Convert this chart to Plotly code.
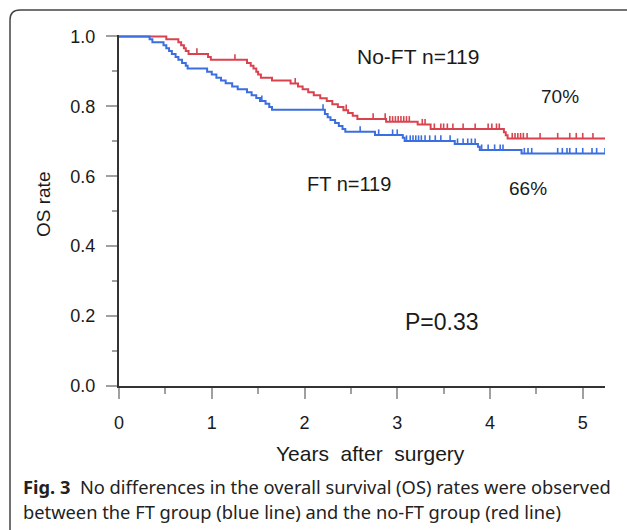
import plotly.graph_objects as go

# ---------------- data ----------------
# No-FT group (red): event times (years) and survival after each step
noft_times = [0, 0.51, 0.64, 0.67, 0.70, 0.72, 0.75, 0.96, 0.99, 1.38, 1.42, 1.45, 1.48, 1.50, 1.53,
              1.65, 1.85, 1.93, 1.98, 2.04, 2.10, 2.17, 2.24, 2.30, 2.36, 2.42, 2.47, 2.52, 2.57,
              2.88, 3.22, 3.36, 4.15, 4.17, 4.19]
noft_surv = [1.0, 0.992, 0.983, 0.975, 0.966, 0.958, 0.950, 0.941, 0.933, 0.924, 0.916, 0.908, 0.899, 0.891, 0.882,
             0.874, 0.865, 0.857, 0.849, 0.840, 0.832, 0.823, 0.815, 0.806, 0.798, 0.789, 0.781, 0.773, 0.764,
             0.756, 0.748, 0.735, 0.726, 0.717, 0.708]
noft_censor = [0.84, 1.25, 1.90, 2.45, 2.74, 2.87, 2.92, 2.95, 2.98, 3.01, 3.04, 3.07, 3.10, 3.13,
               3.27, 3.30, 3.40, 3.47, 3.50, 3.54, 3.60, 3.71, 3.84, 3.98, 4.02, 4.07, 4.10,
               4.24, 4.27, 4.30, 4.33, 4.36, 4.40, 4.54, 4.73, 4.86, 4.93, 5.00, 5.11]

# FT group (blue)
ft_times = [0, 0.33, 0.36, 0.48, 0.51, 0.54, 0.57, 0.61, 0.64, 0.68, 0.72, 0.74, 0.95, 1.00, 1.05,
            1.10, 1.15, 1.22, 1.28, 1.38, 1.43, 1.48, 1.52, 1.58, 1.62, 1.65, 2.22, 2.25, 2.28,
            2.33, 2.37, 2.41, 2.44, 2.76, 3.06, 3.08, 3.62, 3.87, 3.89, 4.34]
ft_surv = [1.0, 0.992, 0.983, 0.975, 0.966, 0.958, 0.950, 0.941, 0.933, 0.924, 0.916, 0.908, 0.899, 0.891, 0.882,
           0.874, 0.866, 0.857, 0.849, 0.840, 0.832, 0.824, 0.815, 0.807, 0.798, 0.790, 0.778, 0.769, 0.761,
           0.752, 0.744, 0.735, 0.727, 0.718, 0.710, 0.701, 0.692, 0.684, 0.675, 0.665]
ft_censor = [1.54, 2.20, 2.60, 2.80, 2.95, 3.00, 3.10, 3.14, 3.17, 3.20, 3.23, 3.26, 3.30, 3.35, 3.41, 3.47,
             3.57, 3.65, 3.71, 3.76, 3.80, 3.84, 3.91, 3.98, 4.05, 4.11, 4.14, 4.37, 4.41, 4.45,
             4.73, 4.78, 4.83, 4.86, 4.93, 5.00, 5.10, 5.15, 5.24]

follow_end = 5.26

x_ticks = [0, 1, 2, 3, 4, 5]
y_ticks = [0.0, 0.2, 0.4, 0.6, 0.8, 1.0]
y_tick_text = ["0.0", "0.2", "0.4", "0.6", "0.8", "1.0"]

RED = "#d9434f"
BLUE = "#3b6ee0"

# ---------------- helpers ----------------
def surv_at(times, surv, t):
    v = surv[0]
    for ti, si in zip(times, surv):
        if ti <= t:
            v = si
    return v


def censor_segments(times, surv, cens, h=0.016):
    xs, ys = [], []
    for c in cens:
        s = surv_at(times, surv, c)
        xs += [c, c, None]
        ys += [s, s + h, None]
    return xs, ys


fig = go.Figure()

for times, surv, cens, col in [(noft_times, noft_surv, noft_censor, RED),
                               (ft_times, ft_surv, ft_censor, BLUE)]:
    fig.add_trace(go.Scatter(x=times + [follow_end], y=surv + [surv[-1]], mode="lines",
                             line=dict(color=col, width=2, shape="hv"), showlegend=False,
                             hoverinfo="skip"))
    cx, cy = censor_segments(times, surv, cens)
    fig.add_trace(go.Scatter(x=cx, y=cy, mode="lines", line=dict(color=col, width=1.6),
                             showlegend=False, hoverinfo="skip"))

# plot area in pixels: x 119..605, y 35..386
L, R, T, B = 119, 605, 35, 386
W, H = 627, 530
pw, ph = R - L, B - T


def px(x):
    return (x - L) / pw


def py(y):
    return (B - y) / ph


FONT = "Liberation Sans, Arial, sans-serif"

fig.update_layout(
    width=W, height=H,
    margin=dict(l=L, r=W - R, t=T, b=H - B, pad=0),
    paper_bgcolor="white", plot_bgcolor="white",
    font=dict(family=FONT, color="#1a1a1a"),
    xaxis=dict(range=[0, 5.24], tickvals=x_ticks, ticktext=[str(v) for v in x_ticks],
               showgrid=False, zeroline=False, showline=True, linecolor="#333", linewidth=2,
               ticks="outside", ticklen=11, tickwidth=2, tickcolor="#a0a0a0",
               minor=dict(ticks="outside", ticklen=6, tickwidth=2, tickcolor="#a0a0a0", dtick=0.5, tick0=0),
               tickfont=dict(size=18, family=FONT, color="#1a1a1a"), ticklabelstandoff=8),
    yaxis=dict(range=[0, 1.004], tickvals=y_ticks, ticktext=y_tick_text,
               showgrid=False, zeroline=False, showline=True, linecolor="#333", linewidth=2,
               ticks="outside", ticklen=11, tickwidth=2, tickcolor="#a0a0a0",
               minor=dict(ticks="outside", ticklen=5, tickwidth=2, tickcolor="#a0a0a0", dtick=0.1, tick0=0),
               tickfont=dict(size=18, family=FONT, color="#1a1a1a"), ticklabelstandoff=7),
)

ann = [
    ("No-FT n=119", 418, 57, 21),
    ("70%", 560, 97, 19),
    ("FT n=119", 349, 184, 20),
    ("66%", 528, 189, 19),
    ("P=0.33", 442, 322, 23),
    ("Years  after  surgery", 370, 454, 21),
]
for text, x, y, s in ann:
    fig.add_annotation(text=text, x=px(x), y=py(y), xref="paper", yref="paper",
                       showarrow=False, xanchor="center", yanchor="middle",
                       font=dict(size=s, family=FONT, color="#1a1a1a"))

fig.add_annotation(text="OS rate", x=px(43), y=py(205), xref="paper", yref="paper",
                   showarrow=False, textangle=-90, xanchor="center", yanchor="middle",
                   font=dict(size=19, family=FONT, color="#1a1a1a"))

CAP = "Noto Sans, sans-serif"
fig.add_annotation(text="<b>Fig. 3</b>  No differences in the overall survival (OS) rates were observed",
                   x=px(21), y=py(486), xref="paper", yref="paper", showarrow=False,
                   xanchor="left", yanchor="middle", font=dict(size=18.3, family=CAP, color="#222"))
fig.add_annotation(text="between the FT group (blue line) and the no-FT group (red line)",
                   x=px(21), y=py(511), xref="paper", yref="paper", showarrow=False,
                   xanchor="left", yanchor="middle", font=dict(size=18.3, family=CAP, color="#222"))

# rounded frame (top-left corner visible)
fl, ft_, fr, fb, rad = 10, 10, 640, 545, 10
path = (f"M {px(fl)},{py(fb)} L {px(fl)},{py(ft_ + rad)} "
        f"Q {px(fl)},{py(ft_)} {px(fl + rad)},{py(ft_)} L {px(fr)},{py(ft_)}")
fig.add_shape(type="path", path=path, xref="paper", yref="paper",
              line=dict(color="#444", width=1.5), layer="below")

fig.write_html("out.html", config={"displayModeBar": False},
               post_script="document.body.style.margin='0px';document.body.style.padding='0px';")
